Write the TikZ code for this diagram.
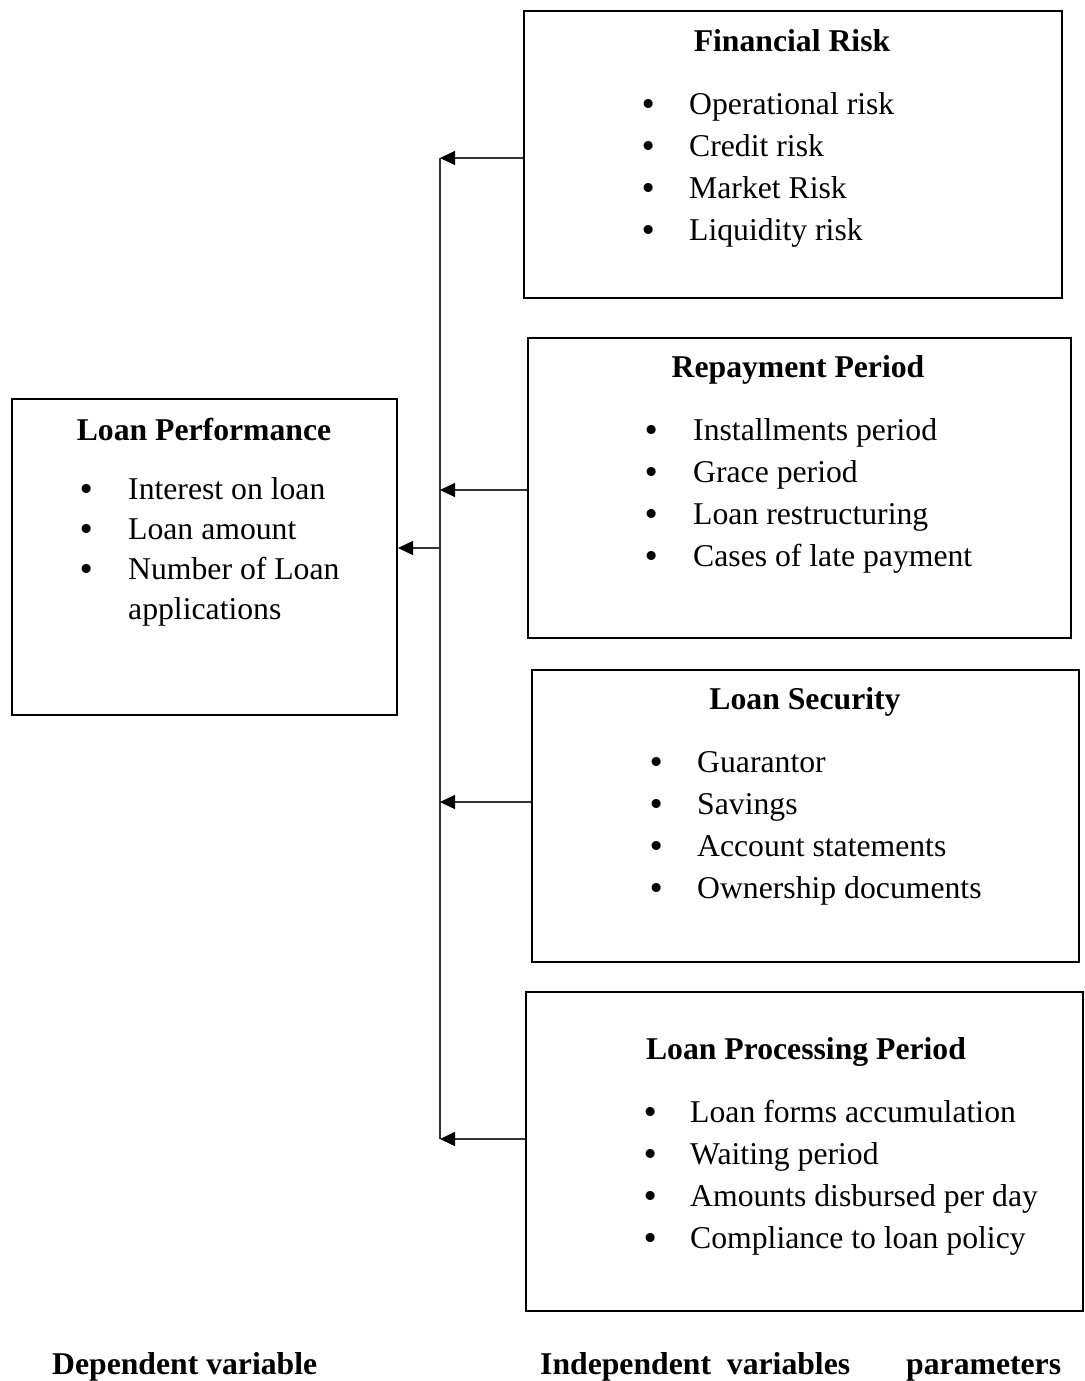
\documentclass[tikz,border=0pt]{standalone}
\usepackage{fontspec}
\setmainfont{Liberation Serif}
\newfontfamily\bulfont{DejaVu Sans}
\usetikzlibrary{arrows.meta}
\begin{document}
\begin{tikzpicture}[x=1pt,y=-1pt,
  box/.style={draw=black,line width=2pt,anchor=north west,inner sep=0pt},
  ttl/.style={anchor=base,inner sep=0pt,font=\fontsize{31.7}{38}\selectfont\bfseries},
  itm/.style={anchor=base west,inner sep=0pt,font=\fontsize{31.7}{38}\selectfont},
  bul/.style={anchor=base,inner sep=0pt,font=\bulfont\fontsize{31}{34}\selectfont},
  lbl/.style={anchor=base west,inner sep=0pt,font=\fontsize{31.7}{38}\selectfont\bfseries},
  conn/.style={draw=black!80,line width=1.4pt},
  arr/.style={conn,-{Triangle[length=15pt,width=14pt,fill=black,color=black]}}]
\path[use as bounding box] (0,0) rectangle (1084,1381);
% boxes
\node[box,minimum width=538pt,minimum height=287pt] (fr) at (523,10) {};
\node[box,minimum width=543pt,minimum height=300pt] (rp) at (527,337) {};
\node[box,minimum width=547pt,minimum height=292pt] (ls) at (531,669) {};
\node[box,minimum width=557pt,minimum height=319pt] (lpp) at (525,991) {};
\node[box,minimum width=385pt,minimum height=316pt] (lp) at (11,398) {};
% titles
\node[ttl] (frt) at (792,52) {Financial Risk};
\node[ttl] (rpt) at (798,377) {Repayment Period};
\node[ttl] (lst) at (805,709) {Loan Security};
\node[ttl] (lppt) at (806,1059) {Loan Processing Period};
\node[ttl] (lpt) at (204,440) {Loan Performance};
% items
\foreach \t [count=\i] in {Operational risk, Credit risk, Market Risk, Liquidity risk}{
  \node[bul] (frb\i) at (649,73+42*\i) {•};
  \node[itm] (fri\i) at (689,72+42*\i) {\t};}
\foreach \t [count=\i] in {Installments period, Grace period, Loan restructuring, Cases of late payment}{
  \node[bul] (rpb\i) at (652,399+42*\i) {•};
  \node[itm] (rpi\i) at (693,398+42*\i) {\t};}
\foreach \t [count=\i] in {Guarantor, Savings, Account statements, Ownership documents}{
  \node[bul] (lsb\i) at (657,731+42*\i) {•};
  \node[itm] (lsi\i) at (697,730+42*\i) {\t};}
\foreach \t [count=\i] in {Loan forms accumulation, Waiting period, Amounts disbursed per day, Compliance to loan policy}{
  \node[bul] (lppb\i) at (651,1081+42*\i) {•};
  \node[itm] (lppi\i) at (690,1080+42*\i) {\t};}
\foreach \t [count=\i] in {Interest on loan, Loan amount, Number of Loan}{
  \node[bul] (lpb\i) at (87,461+39.7*\i) {•};
  \node[itm] (lpi\i) at (128,460+39.7*\i) {\t};}
\node[itm] (lpi4) at (128,619) {applications};
% bottom labels
\node[lbl] (dep) at (52,1374) {Dependent variable};
\node[lbl] (ind) at (540,1374) {Independent\ \ variables};
\node[lbl] (par) at (906,1374) {parameters};
% connectors
\coordinate (j1) at (440,158);
\coordinate (j2) at (440,490);
\coordinate (j3) at (440,802);
\coordinate (j4) at (440,1139);
\coordinate (j0) at (440,548);
\draw[conn] (j1) -- (j4);
\draw[arr] (fr.west |- j1) -- (j1);
\draw[arr] (rp.west |- j2) -- (j2);
\draw[arr] (ls.west |- j3) -- (j3);
\draw[arr] (lpp.west |- j4) -- (j4);
\draw[arr] (j0) -- (lp.east |- j0);
\end{tikzpicture}
\end{document}
